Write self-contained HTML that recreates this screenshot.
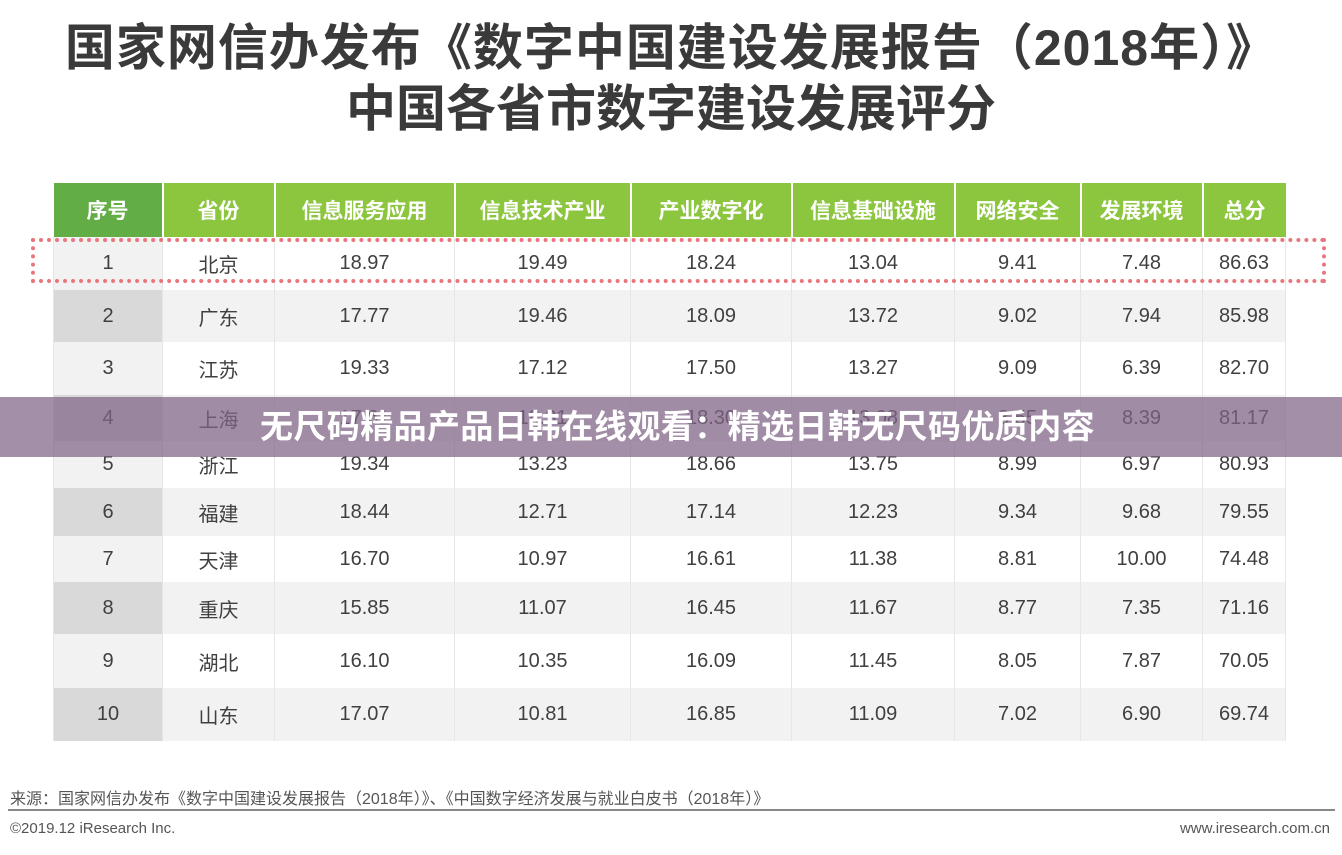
<!DOCTYPE html>
<html><head><meta charset="utf-8"><style>
body{margin:0;width:1342px;height:855px;background:#fff;position:relative;overflow:hidden;font-family:"Liberation Sans","Noto Sans CJK SC",sans-serif;}
.t{position:absolute;left:0;width:1342px;text-align:center;font-weight:bold;color:#3a3a3a;font-size:50px;line-height:60px;}
table{position:absolute;left:53px;top:183px;border-collapse:collapse;}
td{text-align:center;font-size:20px;color:#404040;padding:0;border:1px solid #e6e6e6;border-top:none;border-bottom:none}
th{background:#8cc63f;color:#fff;font-size:21px;font-weight:bold;height:54px;padding:0;border-left:2px solid #fff;}
th:first-child{background:#62ad45;border-left:none}
tr.o td{background:#fff}tr.o td:first-child{background:#f2f2f2}
tr.e td{background:#f2f2f2}tr.e td:first-child{background:#d9d9d9}
</style></head><body>
<div class="t" style="top:18px;letter-spacing:1px">国家网信办发布《数字中国建设发展报告（2018年）》</div>
<div class="t" style="top:79px">中国各省市数字建设发展评分</div>
<table>
<tr><th style="width:108px">序号</th><th style="width:110px">省份</th><th style="width:178px">信息服务应用</th><th style="width:174px">信息技术产业</th><th style="width:159px">产业数字化</th><th style="width:161px">信息基础设施</th><th style="width:124px">网络安全</th><th style="width:120px">发展环境</th><th style="width:82px">总分</th></tr>
<tr class="o" style="height:53px"><td>1</td><td>北京</td><td>18.97</td><td>19.49</td><td>18.24</td><td>13.04</td><td>9.41</td><td>7.48</td><td>86.63</td></tr>
<tr class="e" style="height:52px"><td>2</td><td>广东</td><td>17.77</td><td>19.46</td><td>18.09</td><td>13.72</td><td>9.02</td><td>7.94</td><td>85.98</td></tr>
<tr class="o" style="height:53px"><td>3</td><td>江苏</td><td>19.33</td><td>17.12</td><td>17.50</td><td>13.27</td><td>9.09</td><td>6.39</td><td>82.70</td></tr>
<tr class="e" style="height:46px"><td>4</td><td>上海</td><td>17.61</td><td>18.31</td><td>18.30</td><td>13.08</td><td>8.55</td><td>8.39</td><td>81.17</td></tr>
<tr class="o" style="height:47px"><td>5</td><td>浙江</td><td>19.34</td><td>13.23</td><td>18.66</td><td>13.75</td><td>8.99</td><td>6.97</td><td>80.93</td></tr>
<tr class="e" style="height:48px"><td>6</td><td>福建</td><td>18.44</td><td>12.71</td><td>17.14</td><td>12.23</td><td>9.34</td><td>9.68</td><td>79.55</td></tr>
<tr class="o" style="height:46px"><td>7</td><td>天津</td><td>16.70</td><td>10.97</td><td>16.61</td><td>11.38</td><td>8.81</td><td>10.00</td><td>74.48</td></tr>
<tr class="e" style="height:52px"><td>8</td><td>重庆</td><td>15.85</td><td>11.07</td><td>16.45</td><td>11.67</td><td>8.77</td><td>7.35</td><td>71.16</td></tr>
<tr class="o" style="height:54px"><td>9</td><td>湖北</td><td>16.10</td><td>10.35</td><td>16.09</td><td>11.45</td><td>8.05</td><td>7.87</td><td>70.05</td></tr>
<tr class="e" style="height:53px"><td>10</td><td>山东</td><td>17.07</td><td>10.81</td><td>16.85</td><td>11.09</td><td>7.02</td><td>6.90</td><td>69.74</td></tr>
</table>
<div style="position:absolute;left:31px;top:238px;width:1287px;height:37px;border:4px dotted #e8767c;"></div>
<div style="position:absolute;left:0;top:397px;width:1342px;height:60px;background:rgba(128,100,135,0.72);color:#fff;font-weight:bold;font-size:33px;line-height:60px;"><span style="position:absolute;left:260px;letter-spacing:0.4px">无尺码精品产品日韩在线观看：精选日韩无尺码优质内容</span></div>
<div style="position:absolute;left:10px;top:785px;font-size:16px;color:#555">来源：国家网信办发布《数字中国建设发展报告（2018年）》、《中国数字经济发展与就业白皮书（2018年）》</div>
<div style="position:absolute;left:8px;top:809px;width:1327px;height:2px;background:#888"></div>
<div style="position:absolute;left:10px;top:820px;font-size:15px;color:#555">©2019.12 iResearch Inc.</div>
<div style="position:absolute;right:12px;top:820px;font-size:15px;color:#555">www.iresearch.com.cn</div>
</body></html>
